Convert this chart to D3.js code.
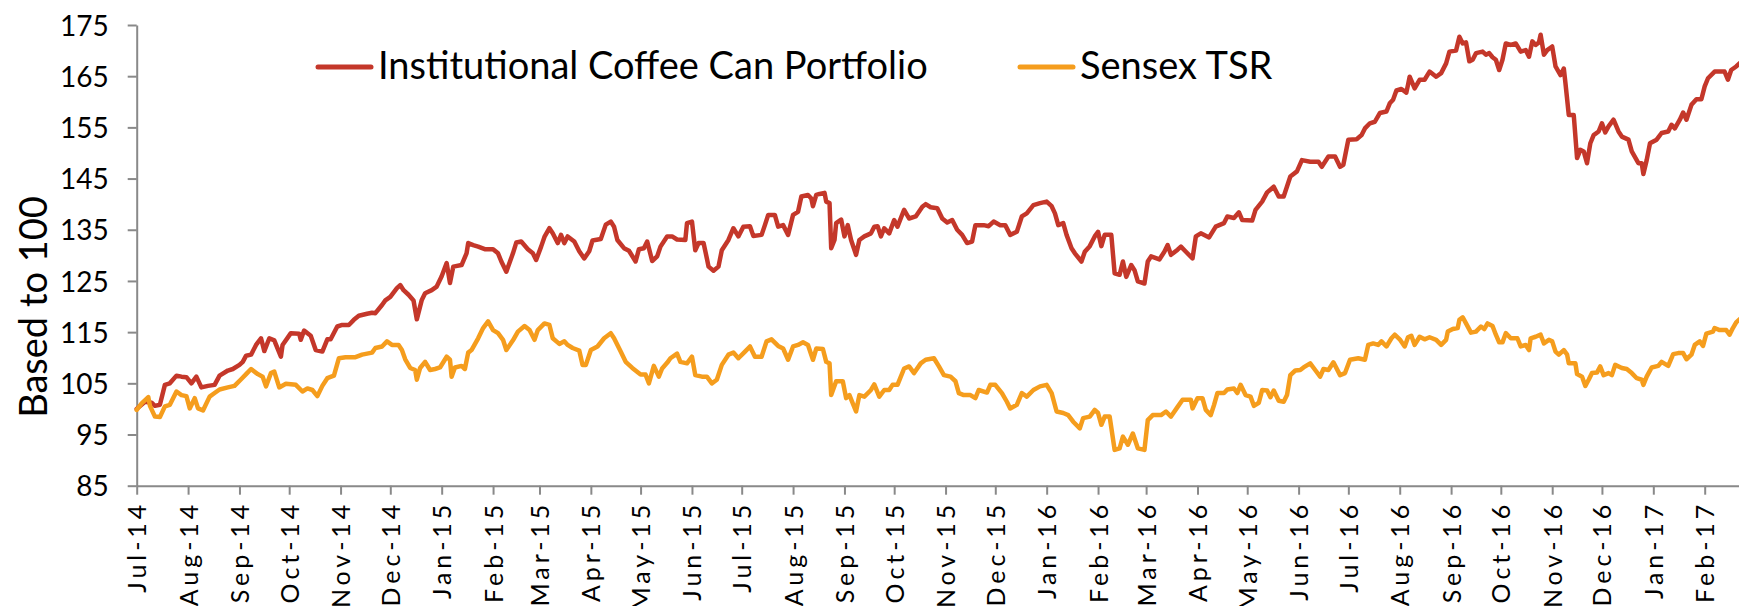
<!DOCTYPE html>
<html>
<head>
<meta charset="utf-8">
<script src="https://cdn.jsdelivr.net/npm/d3@7"></script>
<style>
    html, body { margin: 0; padding: 0; background: #fff; }
    svg { display: block; }
    text { font-family: Lato, "Noto Sans", sans-serif; fill: #000; }
    .axis path, .axis line { stroke: #898989; stroke-width: 2; }
</style>
</head>
<body>
<div id="chart"></div>
<script>
// days counted from 1 Jul 2014, values based to 100
var startDate = new Date(2014, 6, 1)
var endDay = 967

var iccpDay = [0, 5, 9, 11, 14, 17, 20, 24, 27, 30, 33, 36, 39, 43, 47, 50, 55, 58, 62, 64, 66, 69, 72, 75, 77, 80, 83, 87, 88, 93, 98, 99, 101, 105, 108, 112, 115, 117, 121, 124, 128, 131, 134, 139, 142, 144, 148, 150, 153, 157, 159, 161, 164, 167, 169, 172, 174, 178, 181, 184, 187, 189, 191, 196, 199, 200, 203, 206, 210, 215, 218, 220, 223, 227, 229, 232, 236, 239, 241, 244, 246, 249, 251, 254, 256, 258, 260, 264, 267, 270, 273, 275, 280, 283, 286, 288, 290, 294, 297, 301, 303, 306, 308, 311, 314, 316, 320, 323, 326, 331, 332, 335, 337, 339, 342, 344, 345, 348, 351, 353, 357, 360, 363, 366, 370, 372, 377, 379, 381, 385, 387, 390, 393, 396, 399, 401, 405, 407, 408, 410, 412, 415, 416, 418, 419, 421, 422, 425, 427, 429, 431, 434, 436, 439, 443, 445, 447, 449, 451, 454, 457, 459, 463, 466, 470, 474, 476, 479, 483, 486, 489, 492, 495, 498, 501, 504, 506, 511, 514, 517, 521, 524, 527, 531, 534, 537, 541, 545, 549, 552, 554, 556, 559, 561, 564, 566, 570, 572, 575, 578, 580, 582, 584, 588, 590, 593, 595, 597, 600, 602, 604, 608, 610, 612, 617, 620, 622, 624, 628, 630, 633, 637, 639, 642, 647, 651, 656, 658, 662, 665, 667, 673, 675, 679, 682, 686, 689, 692, 696, 700, 703, 708, 713, 715, 719, 723, 726, 728, 731, 736, 739, 741, 744, 747, 750, 754, 756, 758, 760, 763, 766, 767, 768, 771, 774, 777, 780, 784, 787, 790, 792, 796, 798, 800, 802, 804, 806, 808, 812, 814, 816, 818, 820, 822, 824, 826, 829, 832, 835, 838, 840, 842, 844, 846, 847, 849, 851, 854, 856, 859, 861, 862, 864, 867, 869, 871, 873, 875, 877, 879, 882, 884, 886, 888, 891, 894, 896, 900, 902, 906, 908, 909, 911, 913, 917, 920, 924, 926, 928, 931, 933, 935, 938, 941, 944, 946, 948, 952, 956, 958, 960, 962, 965, 967]
var iccpVal = [100.0, 101.4, 101.2, 100.6, 100.8, 104.7, 105.0, 106.5, 106.3, 106.2, 105.0, 106.3, 104.2, 104.5, 104.7, 106.5, 107.5, 107.8, 108.6, 109.2, 110.4, 110.6, 112.5, 113.8, 111.3, 113.8, 113.4, 110.2, 112.5, 114.8, 114.7, 113.5, 115.3, 114.3, 111.5, 111.2, 113.6, 113.6, 116.1, 116.4, 116.4, 117.4, 118.2, 118.6, 118.8, 118.7, 120.3, 121.2, 121.9, 123.6, 124.2, 123.2, 122.3, 121.2, 117.5, 121.3, 122.6, 123.2, 123.9, 125.9, 128.5, 124.6, 127.8, 128.1, 130.4, 132.4, 132.0, 131.7, 131.2, 131.2, 130.4, 128.8, 126.8, 130.4, 132.5, 132.7, 131.2, 130.4, 129.1, 131.7, 133.6, 135.3, 134.3, 132.4, 134.0, 132.4, 133.7, 132.7, 130.8, 129.4, 130.8, 132.9, 133.2, 136.0, 136.6, 135.6, 133.0, 131.4, 130.9, 128.8, 131.2, 131.4, 132.7, 128.9, 129.8, 131.7, 133.7, 133.7, 133.1, 133.0, 136.3, 136.6, 131.0, 132.4, 132.4, 129.4, 127.8, 127.0, 127.8, 131.0, 133.0, 135.3, 133.7, 135.6, 135.7, 133.8, 134.0, 135.9, 137.9, 137.9, 135.6, 135.9, 134.0, 137.9, 138.5, 141.5, 141.8, 141.1, 139.6, 141.8, 142.0, 142.2, 140.5, 140.2, 131.4, 133.0, 136.3, 137.0, 133.7, 135.9, 133.0, 130.1, 133.0, 133.7, 134.3, 135.6, 135.7, 133.7, 135.3, 134.3, 136.9, 135.6, 138.9, 137.2, 137.6, 139.5, 140.0, 139.4, 139.2, 137.2, 136.4, 136.9, 135.0, 134.0, 132.4, 132.7, 135.9, 135.9, 135.7, 136.6, 135.9, 135.9, 134.0, 134.6, 137.6, 138.2, 139.8, 140.2, 140.5, 139.6, 138.2, 135.9, 136.3, 134.0, 131.4, 130.4, 128.8, 130.7, 131.8, 133.7, 134.6, 131.8, 134.0, 134.0, 126.5, 126.2, 128.8, 125.8, 128.1, 127.1, 124.9, 124.5, 128.8, 129.8, 129.2, 130.7, 132.0, 130.1, 131.1, 131.7, 130.7, 129.4, 133.7, 134.3, 133.5, 135.6, 136.3, 137.6, 137.3, 138.4, 136.9, 136.8, 138.9, 140.5, 142.3, 143.4, 141.5, 141.5, 145.4, 146.4, 148.6, 148.3, 148.3, 147.3, 149.3, 149.3, 147.3, 147.7, 152.6, 152.7, 153.5, 154.8, 155.8, 156.1, 157.8, 158.1, 159.7, 160.4, 162.2, 162.5, 161.8, 163.3, 164.9, 162.6, 164.3, 164.3, 165.9, 164.9, 165.6, 167.5, 169.8, 170.0, 172.7, 171.4, 171.6, 167.9, 168.2, 169.5, 169.8, 169.2, 169.5, 168.7, 168.2, 166.2, 168.2, 171.4, 171.1, 171.4, 169.8, 170.1, 168.8, 171.8, 171.1, 171.6, 173.1, 169.2, 170.1, 170.8, 166.9, 165.2, 166.5, 163.6, 157.4, 157.4, 149.0, 150.6, 150.3, 148.0, 151.9, 153.5, 154.2, 155.8, 154.0, 155.2, 156.5, 154.2, 153.2, 152.6, 150.3, 148.0, 148.0, 145.9, 148.6, 151.9, 152.6, 153.9, 154.2, 155.5, 154.8, 156.5, 157.9, 156.5, 159.4, 160.5, 160.5, 163.0, 164.6, 165.9, 165.9, 165.9, 164.3, 166.2, 166.9, 167.5]

var sensexDay = [0, 3, 7, 8, 11, 14, 17, 20, 24, 27, 30, 32, 35, 37, 40, 44, 47, 50, 55, 59, 63, 66, 69, 73, 76, 78, 81, 83, 86, 90, 96, 100, 103, 106, 109, 112, 115, 119, 122, 126, 132, 136, 142, 144, 148, 151, 154, 158, 160, 162, 165, 168, 169, 171, 174, 177, 180, 183, 187, 189, 190, 192, 196, 198, 200, 202, 206, 209, 212, 215, 218, 221, 223, 227, 230, 234, 237, 240, 242, 246, 249, 251, 255, 258, 260, 263, 267, 269, 271, 274, 278, 282, 286, 288, 292, 295, 299, 304, 307, 309, 312, 315, 317, 320, 322, 326, 328, 332, 335, 337, 341, 344, 347, 350, 353, 357, 360, 363, 367, 370, 373, 377, 380, 383, 387, 390, 393, 396, 399, 402, 405, 408, 410, 414, 416, 418, 419, 422, 426, 428, 430, 434, 436, 439, 443, 445, 448, 451, 454, 456, 459, 463, 466, 469, 473, 476, 481, 484, 487, 491, 494, 496, 499, 503, 506, 508, 513, 515, 518, 522, 525, 527, 531, 534, 537, 541, 545, 549, 552, 555, 559, 562, 565, 569, 571, 575, 578, 580, 582, 584, 587, 590, 593, 595, 598, 601, 604, 608, 610, 613, 618, 621, 624, 628, 631, 636, 637, 640, 643, 645, 648, 650, 652, 656, 658, 662, 664, 666, 669, 672, 674, 677, 679, 682, 684, 686, 689, 692, 694, 696, 699, 702, 704, 708, 711, 714, 716, 719, 722, 726, 729, 732, 737, 741, 743, 746, 749, 751, 754, 757, 759, 762, 765, 767, 769, 771, 774, 777, 780, 784, 787, 790, 791, 794, 797, 798, 800, 802, 805, 808, 811, 813, 815, 818, 820, 822, 824, 826, 829, 833, 835, 838, 840, 841, 844, 847, 849, 852, 854, 856, 858, 861, 863, 864, 868, 869, 872, 874, 876, 878, 881, 883, 885, 888, 890, 892, 896, 899, 902, 905, 908, 909, 911, 914, 918, 920, 924, 927, 930, 933, 935, 938, 940, 943, 945, 947, 951, 952, 955, 959, 961, 963, 965, 967]
var sensexVal = [99.8, 101.1, 102.3, 100.6, 98.5, 98.4, 100.5, 100.8, 103.4, 102.7, 102.5, 100.1, 102.1, 100.1, 99.7, 102.4, 103.1, 103.8, 104.2, 104.5, 105.8, 106.8, 107.8, 106.8, 106.3, 104.4, 107.0, 107.3, 104.2, 104.9, 104.7, 103.4, 104.0, 103.7, 102.5, 104.5, 106.0, 106.5, 109.9, 110.1, 110.1, 110.6, 111.0, 111.9, 112.2, 113.2, 112.5, 112.5, 111.5, 109.7, 108.0, 107.6, 105.7, 108.0, 109.2, 107.6, 107.8, 108.1, 110.2, 109.6, 106.3, 108.1, 108.4, 107.8, 111.0, 111.5, 113.8, 115.8, 117.1, 115.4, 114.8, 113.5, 111.5, 113.4, 115.1, 116.2, 115.4, 113.5, 115.4, 116.7, 116.4, 113.8, 112.7, 113.2, 112.5, 111.9, 111.4, 108.6, 108.6, 111.5, 112.2, 113.8, 114.8, 113.8, 111.2, 109.2, 108.0, 106.7, 106.7, 105.0, 108.4, 106.3, 107.9, 109.0, 109.9, 110.8, 109.2, 108.9, 110.2, 106.6, 106.3, 106.3, 105.0, 105.7, 108.6, 110.6, 111.0, 109.9, 111.2, 112.2, 110.2, 110.2, 113.2, 113.6, 112.3, 111.8, 109.6, 112.2, 112.5, 113.0, 112.5, 109.6, 111.8, 111.7, 109.2, 108.9, 102.7, 105.4, 105.4, 102.1, 102.7, 99.5, 102.7, 102.4, 103.7, 104.8, 102.4, 103.7, 103.7, 104.7, 104.7, 107.9, 108.3, 107.0, 108.9, 109.6, 109.9, 108.3, 106.6, 106.3, 105.4, 103.1, 102.7, 102.7, 102.1, 103.7, 103.2, 104.7, 104.7, 103.1, 101.4, 100.1, 100.8, 103.1, 102.4, 103.7, 104.4, 104.7, 103.1, 99.5, 99.2, 98.8, 97.5, 96.2, 98.2, 98.5, 99.8, 99.2, 96.9, 98.5, 98.5, 92.0, 92.3, 94.6, 93.0, 95.2, 92.3, 92.0, 97.8, 98.8, 98.8, 99.5, 98.5, 100.4, 101.8, 101.8, 100.1, 102.1, 102.1, 99.8, 98.8, 100.8, 103.1, 103.1, 103.8, 104.0, 103.1, 104.7, 102.7, 102.4, 100.6, 101.2, 103.7, 103.6, 102.3, 103.6, 101.6, 101.4, 102.7, 106.6, 107.5, 107.6, 108.1, 108.9, 107.6, 106.3, 107.8, 107.6, 109.1, 106.6, 107.0, 109.6, 109.9, 109.6, 112.5, 112.8, 112.5, 113.2, 112.2, 113.8, 114.5, 113.6, 112.2, 114.0, 114.3, 112.5, 114.1, 113.6, 114.0, 113.5, 112.5, 113.5, 115.1, 115.6, 115.8, 117.4, 117.9, 116.7, 114.9, 115.1, 116.1, 115.6, 116.7, 116.2, 114.5, 113.0, 113.0, 114.8, 113.8, 113.8, 112.2, 112.5, 111.5, 113.8, 114.1, 114.5, 112.8, 113.5, 113.2, 111.2, 110.6, 111.5, 110.6, 108.9, 108.9, 106.8, 106.3, 104.5, 105.7, 107.0, 107.1, 108.3, 106.6, 107.0, 106.6, 108.6, 108.0, 107.8, 107.0, 106.0, 105.7, 104.7, 106.3, 108.1, 108.4, 109.2, 108.4, 110.7, 110.9, 110.9, 109.7, 110.6, 112.5, 113.2, 112.3, 114.7, 115.1, 115.8, 115.4, 115.4, 114.5, 115.8, 116.9, 117.5]

var yTicks = [85, 95, 105, 115, 125, 135, 145, 155, 165, 175]
var seriesNames = ['Institutional Coffee Can Portfolio', 'Sensex TSR']
var seriesColors = ['#c4372a', '#f59d1d']
var yTitle = 'Based to 100'

var W = 1739, H = 606
var svg = d3.select('#chart').append('svg')
    .attr('width', W)
    .attr('height', H)

var dayToDate = function (d) { return d3.timeDay.offset(startDate, d) }

var x = d3.scaleTime()
    .domain([startDate, dayToDate(endDay)])
    .range([136.7, 136.7 + endDay * 1.6575])
var y = d3.scaleLinear()
    .domain([85, 175])
    .range([485.7, 25])

// y axis
svg.append('g')
    .attr('class', 'axis')
    .attr('transform', 'translate(136.7,0)')
    .call(d3.axisLeft(y).tickValues(yTicks).tickSize(9).tickSizeOuter(0).tickPadding(19))
    .call(g => g.selectAll('text').style('font-size', '28px').attr('dy', '0.36em'))

// x axis, one tick per month
var months = d3.timeMonth.range(startDate, dayToDate(endDay))
var xAxis = svg.append('g')
    .attr('class', 'axis')
    .attr('transform', 'translate(0,485.7)')
    .call(d3.axisBottom(x).tickValues(months).tickFormat(d3.timeFormat('%b-%y')).tickSize(9).tickSizeOuter(0))
var xLabels = xAxis.selectAll('text')
    .style('font-size', '25px')
    .attr('text-anchor', 'end')
    .attr('transform', 'rotate(-90)')
    .attr('y', 0)
    .attr('dy', '0.36em')
// the labels in the picture are widely spaced: "Jul-14" is about 88px long
var natural = xLabels.node().getComputedTextLength()
var spacing = Math.max(0, (88 - natural) / 5)
xLabels.style('letter-spacing', spacing + 'px').attr('x', -19 + spacing)

// axis title
svg.append('text')
    .attr('transform', 'translate(47,307) rotate(-90)')
    .attr('text-anchor', 'middle')
    .style('font-size', '38px')
    .text(yTitle)

var line = d3.line()
    .x(d => x(d.date))
    .y(d => y(d.v))

var series = [
    iccpDay.map((d, i) => ({ date: dayToDate(d), v: iccpVal[i] })),
    sensexDay.map((d, i) => ({ date: dayToDate(d), v: sensexVal[i] }))
]

series.forEach((s, i) => {
    svg.append('path')
        .datum(s)
        .attr('fill', 'none')
        .attr('stroke', seriesColors[i])
        .attr('stroke-width', 4.5)
        .attr('stroke-linejoin', 'round')
        .attr('stroke-linecap', 'round')
        .attr('d', line)
})

// legend
var legendX = [318, 1020]
seriesNames.forEach((name, i) => {
    var lg = svg.append('g').attr('transform', 'translate(' + legendX[i] + ',0)')
    lg.append('line')
        .attr('x1', 0).attr('x2', 53)
        .attr('y1', 67).attr('y2', 67)
        .attr('stroke', seriesColors[i])
        .attr('stroke-width', 5)
        .attr('stroke-linecap', 'round')
    lg.append('text')
        .attr('x', 60)
        .attr('y', 79)
        .style('font-size', '38px')
        .text(name)
})
</script>
</body>
</html>
